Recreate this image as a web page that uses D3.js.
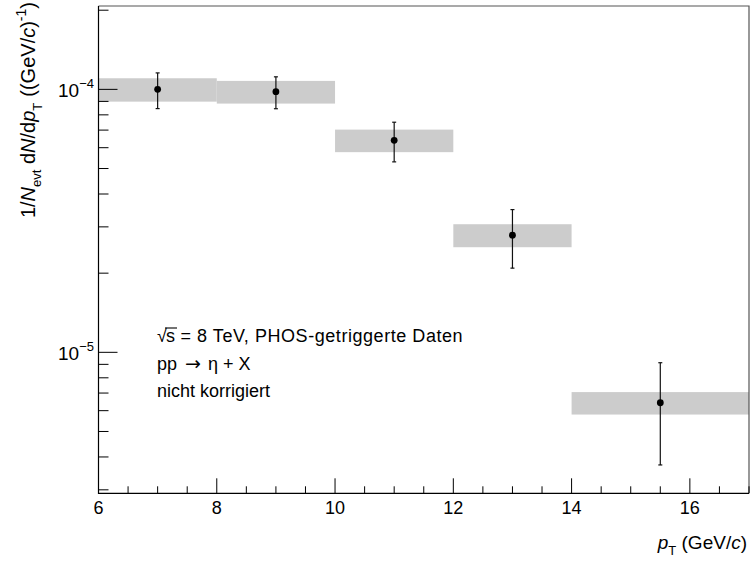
<!DOCTYPE html>
<html>
<head>
<meta charset="utf-8">
<script src="https://cdn.jsdelivr.net/npm/d3@7"></script>
<style>
  html, body { margin: 0; padding: 0; background: #fff; }
  svg { display: block; font-family: "Liberation Sans", Arial, Helvetica, sans-serif; }
</style>
</head>
<body>
<svg id="chart" width="750" height="566"></svg>
<script>
// eta-meson yield per pT bin (PHOS-triggered, pp at 8 TeV, uncorrected)
const binLow  = [6, 8, 10, 12, 14];
const binHigh = [8, 10, 12, 14, 17];
const ptCenter = [7, 9, 11, 13, 15.5];
const yieldVal = [1.00e-4, 0.98e-4, 6.4e-5, 2.79e-5, 6.43e-6];
const statErr  = [1.55e-5, 1.36e-5, 1.1e-5, 0.70e-5, 2.7e-6];
const sysErr   = [1.02e-5, 0.97e-5, 0.63e-5, 0.28e-5, 0.63e-6];

const xTickLabels = [6, 8, 10, 12, 14, 16];
const yMajorExp = [-5, -4];

const svg = d3.select("#chart");
const plotL = 98.5, plotR = 749, plotT = 6, plotB = 493.3;

const x = d3.scaleLinear().domain([6, 17]).range([plotL, plotR]);
const y = d3.scaleLog().domain([2.91e-6, 2.075e-4]).range([plotB, plotT]);

// systematic uncertainty boxes
svg.append("g").selectAll("rect").data(yieldVal).join("rect")
  .attr("x", (d, i) => x(binLow[i]))
  .attr("width", (d, i) => x(binHigh[i]) - x(binLow[i]))
  .attr("y", (d, i) => y(d + sysErr[i]))
  .attr("height", (d, i) => y(d - sysErr[i]) - y(d + sysErr[i]))
  .attr("fill", "#cccccc");

// frame: top and right edges are lighter than the axes
svg.append("path")
  .attr("d", `M${plotL},${plotT}H${plotR}V${plotB}`)
  .attr("fill", "none").attr("stroke", "#555").attr("stroke-width", 1.2);
svg.append("path")
  .attr("d", `M${plotL},${plotT}V${plotB}H${plotR}`)
  .attr("fill", "none").attr("stroke", "#000").attr("stroke-width", 1.2);

// x axis ticks
const xMinor = d3.range(6, 17.001, 0.5).filter(v => v % 2 !== 0);
const xMajor = d3.range(6, 17.001, 2);
const gx = svg.append("g").attr("stroke", "#000").attr("stroke-width", 1);
gx.selectAll(".mn").data(xMinor).join("line")
  .attr("x1", d => x(d)).attr("x2", d => x(d))
  .attr("y1", plotB).attr("y2", plotB - 7);
gx.selectAll(".mj").data(xMajor).join("line")
  .attr("x1", d => x(d)).attr("x2", d => x(d))
  .attr("y1", plotB).attr("y2", plotB - 15);
svg.append("g").selectAll("text").data(xTickLabels).join("text")
  .attr("x", d => x(d)).attr("y", 513.5)
  .attr("text-anchor", "middle").attr("font-size", 18)
  .text(d => d);

// y axis ticks (log)
const yMinor = [];
[-6, -5, -4].forEach(e => { for (let m = 2; m <= 9; m++) { const v = m * Math.pow(10, e); if (v >= 2.91e-6 && v <= 2.075e-4) yMinor.push(v); } });
const gy = svg.append("g").attr("stroke", "#000").attr("stroke-width", 1);
gy.selectAll(".mn").data(yMinor).join("line")
  .attr("x1", plotL).attr("x2", plotL + 10)
  .attr("y1", d => y(d)).attr("y2", d => y(d));
gy.selectAll(".mj").data(yMajorExp).join("line")
  .attr("x1", plotL).attr("x2", plotL + 19)
  .attr("y1", d => y(Math.pow(10, d))).attr("y2", d => y(Math.pow(10, d)));
const yl = svg.append("g").selectAll("text").data(yMajorExp).join("text")
  .attr("x", 58).attr("y", d => y(Math.pow(10, d)) + 8)
  .attr("font-size", 19).attr("text-anchor", "start");
yl.append("tspan").text("10");
yl.append("tspan").attr("dy", -9).attr("font-size", 13).text(d => "\u2212" + Math.abs(d));

// statistical error bars
const eb = svg.append("g").attr("stroke", "#111").attr("stroke-width", 1.2);
eb.selectAll(".v").data(yieldVal).join("line")
  .attr("x1", (d, i) => x(ptCenter[i])).attr("x2", (d, i) => x(ptCenter[i]))
  .attr("y1", (d, i) => y(d + statErr[i])).attr("y2", (d, i) => y(d - statErr[i]));
eb.selectAll(".t").data(yieldVal).join("line")
  .attr("x1", (d, i) => x(ptCenter[i]) - 2).attr("x2", (d, i) => x(ptCenter[i]) + 2)
  .attr("y1", (d, i) => y(d + statErr[i])).attr("y2", (d, i) => y(d + statErr[i]));
eb.selectAll(".b").data(yieldVal).join("line")
  .attr("x1", (d, i) => x(ptCenter[i]) - 2).attr("x2", (d, i) => x(ptCenter[i]) + 2)
  .attr("y1", (d, i) => y(d - statErr[i])).attr("y2", (d, i) => y(d - statErr[i]));

// markers
svg.append("g").selectAll("circle").data(yieldVal).join("circle")
  .attr("cx", (d, i) => x(ptCenter[i])).attr("cy", d => y(d))
  .attr("r", 3.4).attr("fill", "#000");

// annotation
const ann = svg.append("g").attr("font-size", 18);
const l1 = ann.append("text").attr("x", 157).attr("y", 342);
l1.append("tspan").text("\u221A");
l1.append("tspan").attr("dx", -1).text("s");
l1.append("tspan").attr("letter-spacing", 0.55).text(" = 8 TeV, PHOS-getriggerte Daten");
ann.append("line").attr("x1", 165).attr("x2", 177)
  .attr("y1", 328).attr("y2", 328).attr("stroke", "#000").attr("stroke-width", 1.1);
const l2 = ann.append("text").attr("x", 157).attr("y", 370);
l2.append("tspan").text("pp");
l2.append("tspan").attr("dx", 8).attr("font-family", "DejaVu Sans").attr("font-size", 19).text("\u2192");
l2.append("tspan").attr("dx", 7).text("\u03B7 + X");
ann.append("text").attr("x", 157).attr("y", 397).text("nicht korrigiert");

// x axis title
const xt = svg.append("text").attr("x", 747).attr("y", 549)
  .attr("text-anchor", "end").attr("font-size", 19);
xt.append("tspan").attr("font-style", "italic").text("p");
xt.append("tspan").attr("dy", 6).attr("font-size", 13).text("T");
xt.append("tspan").attr("dy", -6).text(" (GeV/");
xt.append("tspan").attr("font-style", "italic").text("c");
xt.append("tspan").text(")");

// y axis title
const yt = svg.append("text")
  .attr("transform", "translate(35,2) rotate(-90)")
  .attr("text-anchor", "end").attr("font-size", 20);
yt.append("tspan").text("1/");
yt.append("tspan").attr("font-style", "italic").text("N");
yt.append("tspan").attr("dy", 6).attr("font-size", 13).text("evt");
yt.append("tspan").attr("dy", -6).text(" d");
yt.append("tspan").attr("font-style", "italic").text("N");
yt.append("tspan").text("/d");
yt.append("tspan").attr("font-style", "italic").text("p");
yt.append("tspan").attr("dy", 7).attr("font-size", 13).text("T");
yt.append("tspan").attr("dy", -7).attr("dx", 6).text("((GeV/");
yt.append("tspan").attr("font-style", "italic").text("c");
yt.append("tspan").text(")");
yt.append("tspan").attr("dy", -9).attr("font-size", 14).text("-1");
yt.append("tspan").attr("dy", 9).text(")");
</script>
</body>
</html>
